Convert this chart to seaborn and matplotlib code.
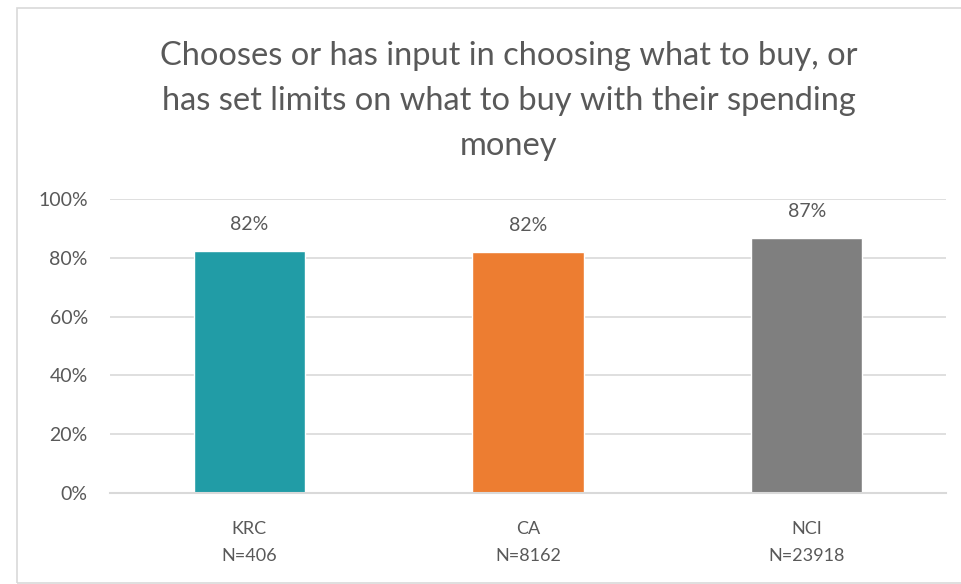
import matplotlib.pyplot as plt
import matplotlib.patches as mpatches
import pandas as pd
import seaborn as sns

# data
groups = ['KRC', 'CA', 'NCI']
sizes = ['N=406', 'N=8162', 'N=23918']
values = [0.823, 0.820, 0.867]
bar_colors = ['#219ca6', '#ed7d31', '#7f7f7f']
title = 'Chooses or has input in choosing what to buy, or\nhas set limits on what to buy with their spending\nmoney'

sns.set_style('white')
plt.rcParams['font.family'] = ['Lato', 'DejaVu Sans']
text_color = '#595959'

df = pd.DataFrame({'group': groups, 'value': values})
df['label'] = [g + '\n' + n for g, n in zip(groups, sizes)]

fig = plt.figure(figsize=(9.61, 5.84), dpi=100)
ax = fig.add_axes([0.1145, 0.1558, 0.87, 0.5034])

sns.barplot(data=df, x='label', y='value', hue='label', palette=bar_colors,
            width=0.4, legend=False, ax=ax, saturation=1)

ax.set_ylim(0, 1)
ax.set_yticks([0, 0.2, 0.4, 0.6, 0.8, 1.0])
ax.set_yticklabels(['0%', '20%', '40%', '60%', '80%', '100%'])
ax.set_xlim(-0.5, 2.5)
ax.yaxis.grid(True, color='#d9d9d9', linewidth=1.2)
ax.set_axisbelow(True)
for s in ['top', 'right', 'left']:
    ax.spines[s].set_visible(False)
ax.spines['bottom'].set_color('#d9d9d9')
ax.spines['bottom'].set_linewidth(1.5)
ax.tick_params(axis='y', length=0, pad=16, labelsize=14, labelcolor=text_color)
ax.tick_params(axis='x', length=0, pad=20, labelsize=13, labelcolor=text_color)
for lab in ax.get_xticklabels():
    lab.set_linespacing(1.85)
ax.set_xlabel('')
ax.set_ylabel('')

for i, v in enumerate(values):
    ax.text(i, v + 0.06, f'{round(v * 100):.0f}%', ha='center', va='bottom',
            fontsize=14, color=text_color,
            bbox=dict(facecolor='white', edgecolor='none', pad=1))

fig.text(509 / 961, 1 - 101 / 584, title, ha='center', va='center', fontsize=23.5,
         color=text_color, linespacing=1.63)

# light chart border
fig.patches.append(mpatches.Rectangle((17 / 961, 1 / 584), 1.0, 1 - 9 / 584,
                                      transform=fig.transFigure, fill=False,
                                      edgecolor='#d9d9d9', linewidth=1.2))

fig.savefig('out.png', dpi=100)
